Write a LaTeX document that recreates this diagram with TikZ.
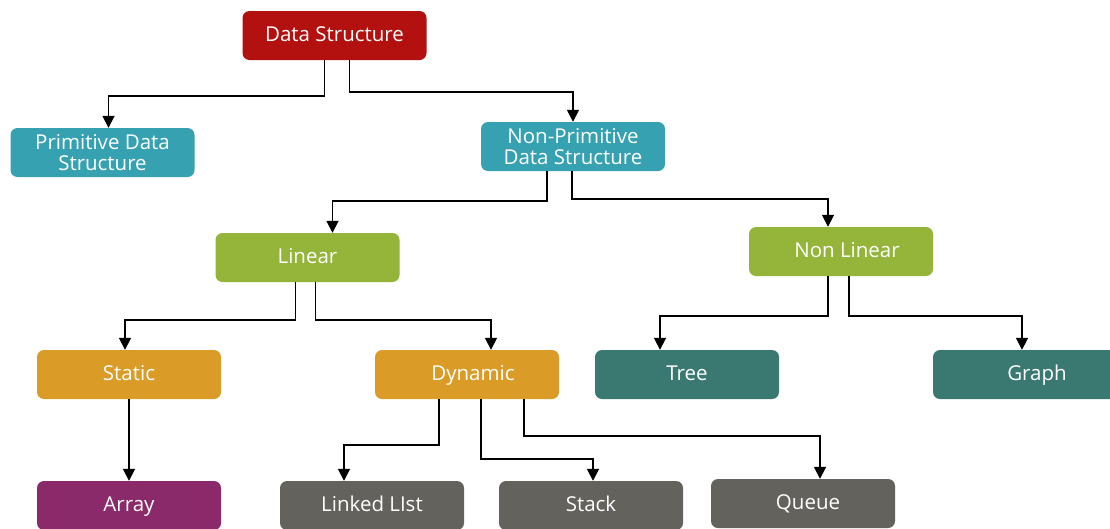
\documentclass[tikz,border=0pt]{standalone}
\usepackage{fontspec}
\setmainfont{Open Sans}
\usetikzlibrary{arrows.meta}
\definecolor{cred}{HTML}{B31010}
\definecolor{cteal}{HTML}{36A1B1}
\definecolor{cgreen}{HTML}{95B43A}
\definecolor{corange}{HTML}{DA9C26}
\definecolor{cdteal}{HTML}{3A7872}
\definecolor{cpurple}{HTML}{8B2A6A}
\definecolor{cgrey}{HTML}{63625C}
\tikzset{
  box/.style={rounded corners=7pt, minimum width=184pt, minimum height=49pt, text=white,
    font=\fontsize{20.5}{21}\selectfont, align=center, inner sep=2pt},
  one/.style={box, text height=17.5pt, text depth=5pt},
  arr/.style={draw=black, line width=1.7pt, -{Triangle[length=12pt,width=12pt]}}
}
\begin{document}
\begin{tikzpicture}[x=1pt,y=-1pt]
\useasboundingbox[fill=white] (0,0) rectangle (1110,528);
\node[one, fill=cred] (ds) at (334.5,35.5) {Data Structure};
\node[box, fill=cteal] (prim) at (102.5,152.5) {Primitive Data\\Structure};
\node[box, fill=cteal] (nprim) at (573,146.5) {Non-Primitive\\Data Structure};
\node[one, fill=cgreen] (lin) at (307.5,257.5) {Linear};
\node[one, fill=cgreen] (nlin) at (841,251.5) {\hspace*{12pt}Non Linear};
\node[one, fill=corange] (stat) at (129,374.5) {Static};
\node[one, fill=corange] (dyn) at (467,374.5) {\hspace*{12pt}Dynamic};
\node[one, fill=cdteal] (tree) at (687,374.5) {Tree};
\node[one, fill=cdteal] (graph) at (1025,374.5) {\hspace*{24pt}Graph};
\node[one, fill=cpurple] (array) at (129,505.5) {Array};
\node[one, fill=cgrey] (ll) at (372,505.5) {Linked LIst};
\node[one, fill=cgrey] (stack) at (591,505.5) {Stack};
\node[one, fill=cgrey] (queue) at (803,503.5) {\hspace*{10pt}Queue};

\draw[arr] ([xshift=-10pt]ds.south) -- ++(0,36) -| ([xshift=6pt]prim.north);
\draw[arr] ([xshift=15pt]ds.south) -- ++(0,32) -| (nprim.north);
\draw[arr] ([xshift=-26pt]nprim.south) -- ++(0,30) -| ([xshift=25pt]lin.north);
\draw[arr] ([xshift=-1pt]nprim.south) -- ++(0,28) -| ([xshift=-13pt]nlin.north);
\draw[arr] ([xshift=-12pt]lin.south) -- ++(0,38) -| ([xshift=-4pt]stat.north);
\draw[arr] ([xshift=8pt]lin.south) -- ++(0,38) -| ([xshift=24pt]dyn.north);
\draw[arr] ([xshift=-13pt]nlin.south) -- ++(0,40) -| ([xshift=-27pt]tree.north);
\draw[arr] ([xshift=8pt]nlin.south) -- ++(0,40) -| ([xshift=-3pt]graph.north);
\draw[arr] (stat.south) -- (array.north);
\draw[arr] ([xshift=-28pt]dyn.south) -- ++(0,46) -| ([xshift=-28pt]ll.north);
\draw[arr] ([xshift=14pt]dyn.south) -- ++(0,60) -| ([xshift=2pt]stack.north);
\draw[arr] ([xshift=57pt]dyn.south) -- ++(0,37) -| ([xshift=17pt]queue.north);
\end{tikzpicture}
\end{document}
